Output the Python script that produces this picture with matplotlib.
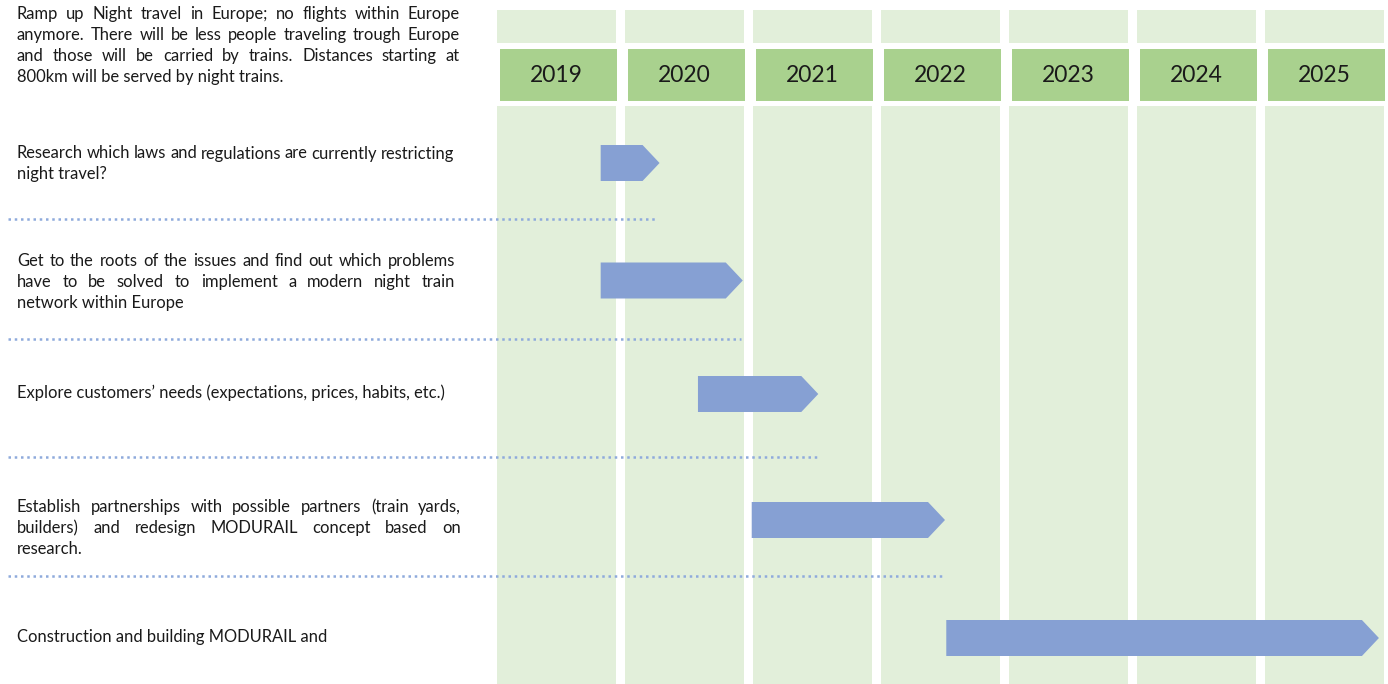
import matplotlib.pyplot as plt
from matplotlib.patches import Polygon, Rectangle

plt.rcParams['font.family'] = ['Lato', 'DejaVu Sans']

# 时间轴年份
years = [2019, 2020, 2021, 2022, 2023, 2024, 2025]

# 目标描述（按原图换行）
goal_lines = [
    "Ramp up Night travel in Europe; no flights within Europe",
    "anymore. There will be less people traveling trough Europe",
    "and those will be carried by trains. Distances starting at",
    "800km will be served by night trains.",
]

# 各项任务文字
task_lines = [
    ["Research which laws and regulations are currently restricting",
     "night travel?"],
    ["Get to the roots of the issues and find out which problems",
     "have to be solved to implement a modern night train",
     "network within Europe"],
    ["Explore customers\u2019 needs (expectations, prices, habits, etc.)"],
    ["Establish partnerships with possible partners (train yards,",
     "builders) and redesign MODURAIL concept based on",
     "research."],
    ["Construction and building MODURAIL and"],
]

# 任务起止（年份，小数表示年内位置）
task_start = [2019.81, 2019.81, 2020.57, 2020.99, 2022.51]
task_end = [2020.27, 2020.92, 2021.51, 2022.50, 2025.89]

# ---- 布局 ----
W, H = 1388, 684
COL_W = 0.93          # 每列宽度（年）
PX_PER_YEAR = 128.0
X0_PX = 497           # 2019 列左边界像素
bar_y = [163, 280.5, 394, 520, 638]
sep_y = [219, 339, 457, 576]
BAR_H = 36
TIP = 17 / PX_PER_YEAR

# 每段文字第一行的基线位置（像素）
goal_base = 19
task_text_base = [158.5, 266, 398, 512, 642]
text_right = [454, 455, 445, 461, 461]
goal_right = 460
TEXT_X = 17
LINE_H = 21
FS = 11.9

LIGHT = '#E2EFDA'
HEAD = '#A9D18E'
BAR = '#86A0D3'
DOT = '#8FAADC'
TXT = '#1A1A1A'

fig = plt.figure(figsize=(W / 100, H / 100), dpi=100)
ax = fig.add_axes([0, 0, 1, 1])
ax.set_xlim(years[0] - X0_PX / PX_PER_YEAR, years[0] + (W - X0_PX) / PX_PER_YEAR)
ax.set_ylim(H, 0)
ax.axis('off')

# 文字用像素坐标
tax = fig.add_axes([0, 0, 1, 1])
tax.set_xlim(0, W)
tax.set_ylim(H, 0)
tax.axis('off')
tax.patch.set_alpha(0)

# 年份列
for y in years:
    ax.add_patch(Rectangle((y, 10), COL_W, 33, color=LIGHT, lw=0))
    ax.add_patch(Rectangle((y + 0.025, 49), COL_W - 0.02, 52, color=HEAD, lw=0))
    ax.add_patch(Rectangle((y, 106), COL_W, H - 106, color=LIGHT, lw=0))
    ax.text(y + 0.01 + (COL_W - 0.02) / 2, 76, str(y), ha='center', va='center',
            fontsize=16.5, color=TXT)

# 任务箭头
for s, e, yc in zip(task_start, task_end, bar_y):
    pts = [(s, yc - BAR_H / 2), (e - TIP, yc - BAR_H / 2), (e, yc),
           (e - TIP, yc + BAR_H / 2), (s, yc + BAR_H / 2)]
    ax.add_patch(Polygon(pts, closed=True, color=BAR, lw=0))

# 分隔虚线
left_year = years[0] - (X0_PX - 8) / PX_PER_YEAR
for e, ys in zip(task_end[:-1], sep_y):
    ax.plot([left_year, e - 0.01], [ys, ys], color=DOT, lw=1.8,
            linestyle=(0, (1, 1.5)), solid_capstyle='butt')

renderer = fig.canvas.get_renderer()


def text_w(s):
    t = tax.text(0, 0, s, fontsize=FS)
    w = t.get_window_extent(renderer).width
    t.remove()
    return w


def put_block(lines, base, right):
    # 两端对齐，最后一行左对齐
    for k, line in enumerate(lines):
        y = base + k * LINE_H
        if k == len(lines) - 1:
            tax.text(TEXT_X, y, line, fontsize=FS, color=TXT, va='baseline')
            continue
        words = line.split(' ')
        ws = [text_w(w) for w in words]
        gap = (right - TEXT_X - sum(ws)) / (len(words) - 1)
        x = TEXT_X
        for w, wd in zip(words, ws):
            tax.text(x, y, w, fontsize=FS, color=TXT, va='baseline')
            x += wd + gap


put_block(goal_lines, goal_base, goal_right)
for lines, base, right in zip(task_lines, task_text_base, text_right):
    put_block(lines, base, right)

fig.savefig('out.png', dpi=100)
